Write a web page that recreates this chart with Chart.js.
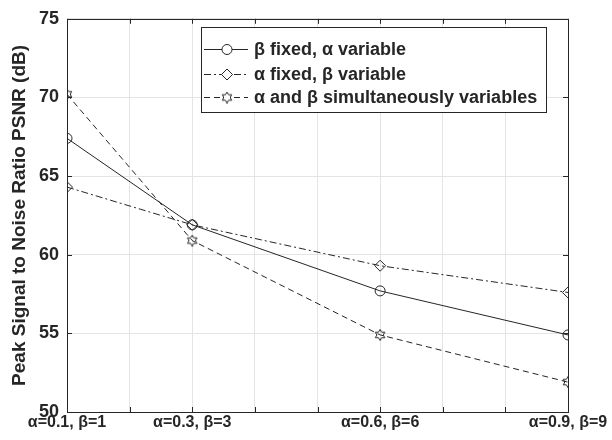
<!DOCTYPE html>
<html>
<head>
<meta charset="utf-8">
<script src="https://cdn.jsdelivr.net/npm/chart.js@4.4.0/dist/chart.umd.min.js"></script>
<style>
  body { margin: 0; background: #fff; }
</style>
</head>
<body>
<canvas id="psnr" width="612" height="440"></canvas>
<script>
// data
const xVals = [0.1, 0.3, 0.6, 0.9];
const xTickLabels = ['\u03b1=0.1, \u03b2=1', '\u03b1=0.3, \u03b2=3', '\u03b1=0.6, \u03b2=6', '\u03b1=0.9, \u03b2=9'];
const seriesLabels = [
  '\u03b2 fixed, \u03b1 variable',
  '\u03b1 fixed, \u03b2 variable',
  '\u03b1 and \u03b2 simultaneously variables'
];
const betaFixed = [67.4, 61.9, 57.7, 54.9];
const alphaFixed = [64.3, 61.9, 59.3, 57.6];
const bothVariable = [70.2, 60.9, 54.9, 51.9];

const ink = '#262626';
const fontFam = '"Liberation Sans", Arial, sans-serif';

// six pointed star marker (matlab hexagram)
function hexagram(size) {
  const c = document.createElement('canvas');
  c.width = size; c.height = size;
  const g = c.getContext('2d');
  const cx = size / 2, cy = size / 2, ro = size / 2 - 0.5, ri = ro * 0.58;
  g.beginPath();
  for (let i = 0; i < 12; i++) {
    const r = i % 2 ? ri : ro;
    const a = -Math.PI / 2 + i * Math.PI / 6;
    const px = cx + r * Math.cos(a), py = cy + r * Math.sin(a);
    if (i === 0) g.moveTo(px, py); else g.lineTo(px, py);
  }
  g.closePath();
  g.strokeStyle = ink;
  g.lineWidth = 1;
  g.stroke();
  return c;
}
const starImg = hexagram(12);

function pts(arr) {
  return arr.map((v, i) => ({ x: xVals[i], y: v }));
}

const datasets = [
  { label: seriesLabels[0], data: pts(betaFixed), borderDash: [], pointStyle: 'circle', pointRadius: 5 },
  { label: seriesLabels[1], data: pts(alphaFixed), borderDash: [7, 3, 2, 3], pointStyle: 'rectRot', pointRadius: 5.5 },
  { label: seriesLabels[2], data: pts(bothVariable), borderDash: [6, 4], pointStyle: starImg, pointRadius: 6 }
].map(d => Object.assign({
  borderColor: ink,
  borderWidth: 1,
  pointBorderColor: ink,
  pointBackgroundColor: 'rgba(0,0,0,0)',
  pointBorderWidth: 1,
  fill: false,
  tension: 0
}, d));

// box around plot with inward ticks, matlab style
const boxPlugin = {
  id: 'boxPlugin',
  afterDatasetsDraw(chart) {
    const { ctx, chartArea: a, scales } = chart;
    ctx.save();
    ctx.strokeStyle = ink;
    ctx.lineWidth = 1;
    ctx.beginPath();
    scales.x.ticks.forEach(t => {
      const px = Math.round(scales.x.getPixelForValue(t.value)) + 0.5;
      ctx.moveTo(px, a.bottom); ctx.lineTo(px, a.bottom - 5);
      ctx.moveTo(px, a.top); ctx.lineTo(px, a.top + 5);
    });
    scales.y.ticks.forEach(t => {
      const py = Math.round(scales.y.getPixelForValue(t.value)) + 0.5;
      ctx.moveTo(a.left, py); ctx.lineTo(a.left + 5, py);
      ctx.moveTo(a.right, py); ctx.lineTo(a.right - 5, py);
    });
    ctx.stroke();
    ctx.strokeRect(Math.round(a.left) + 0.5, Math.round(a.top) + 0.5,
      Math.round(a.right - a.left), Math.round(a.bottom - a.top));
    ctx.restore();
  }
};

// legend box in upper right
const legendBox = {
  id: 'legendBox',
  afterDraw(chart) {
    const { ctx } = chart;
    const x0 = 201, y0 = 27, w = 345, h = 85;
    const rows = [49, 74, 97];
    ctx.save();
    ctx.fillStyle = '#fff';
    ctx.fillRect(x0, y0, w, h);
    ctx.strokeStyle = ink;
    ctx.lineWidth = 1;
    ctx.strokeRect(x0 + 0.5, y0 + 0.5, w, h);
    chart.data.datasets.forEach((ds, i) => {
      const y = rows[i] + 0.5;
      ctx.setLineDash(ds.borderDash);
      ctx.beginPath();
      ctx.moveTo(204, y); ctx.lineTo(248, y);
      ctx.stroke();
      ctx.setLineDash([]);
      const mx = 227;
      ctx.fillStyle = '#fff';
      if (ds.pointStyle === 'circle') {
        ctx.beginPath(); ctx.arc(mx, y, 5, 0, Math.PI * 2); ctx.fill(); ctx.stroke();
      } else if (ds.pointStyle === 'rectRot') {
        ctx.beginPath();
        ctx.moveTo(mx, y - 5.5); ctx.lineTo(mx + 5.5, y); ctx.lineTo(mx, y + 5.5); ctx.lineTo(mx - 5.5, y);
        ctx.closePath(); ctx.fill(); ctx.stroke();
      } else {
        ctx.fillRect(mx - 5, y - 5, 10, 10);
        ctx.drawImage(starImg, mx - 6, y - 6);
      }
      ctx.fillStyle = ink;
      ctx.font = 'bold 18px ' + fontFam;
      ctx.textBaseline = 'middle';
      ctx.fillText(ds.label, 254, y + 1);
    });
    ctx.restore();
  }
};

new Chart(document.getElementById('psnr'), {
  type: 'line',
  data: { datasets },
  plugins: [boxPlugin, legendBox],
  options: {
    responsive: false,
    animation: false,
    devicePixelRatio: 1,
    layout: { padding: { top: 17, right: 44, left: 0, bottom: 0 } },
    plugins: {
      legend: { display: false },
      tooltip: { enabled: false }
    },
    scales: {
      x: {
        type: 'linear',
        min: 0.1,
        max: 0.9,
        border: { display: false },
        grid: { color: '#e4e4e4', drawTicks: false },
        ticks: {
          stepSize: 0.1,
          padding: 1,
          maxRotation: 0,
          autoSkip: false,
          color: ink,
          font: { family: fontFam, size: 16, weight: 'bold' },
          callback: v => {
            const i = xVals.findIndex(p => Math.abs(p - v) < 1e-6);
            return i >= 0 ? xTickLabels[i] : '';
          }
        },
        afterFit: s => { s.height = 28; s.paddingLeft = 0; s.paddingRight = 0; }
      },
      y: {
        min: 50,
        max: 75,
        border: { display: false },
        grid: { color: '#e4e4e4', drawTicks: false },
        ticks: {
          stepSize: 5,
          padding: 8,
          color: ink,
          font: { family: fontFam, size: 18, weight: 'bold' }
        },
        title: {
          display: true,
          text: 'Peak Signal to Noise Ratio PSNR (dB)',
          color: ink,
          padding: { top: 8, bottom: 0 },
          font: { family: fontFam, size: 19, weight: 'bold' }
        },
        afterFit: s => { s.width = 67; }
      }
    }
  }
});
</script>
</body>
</html>
